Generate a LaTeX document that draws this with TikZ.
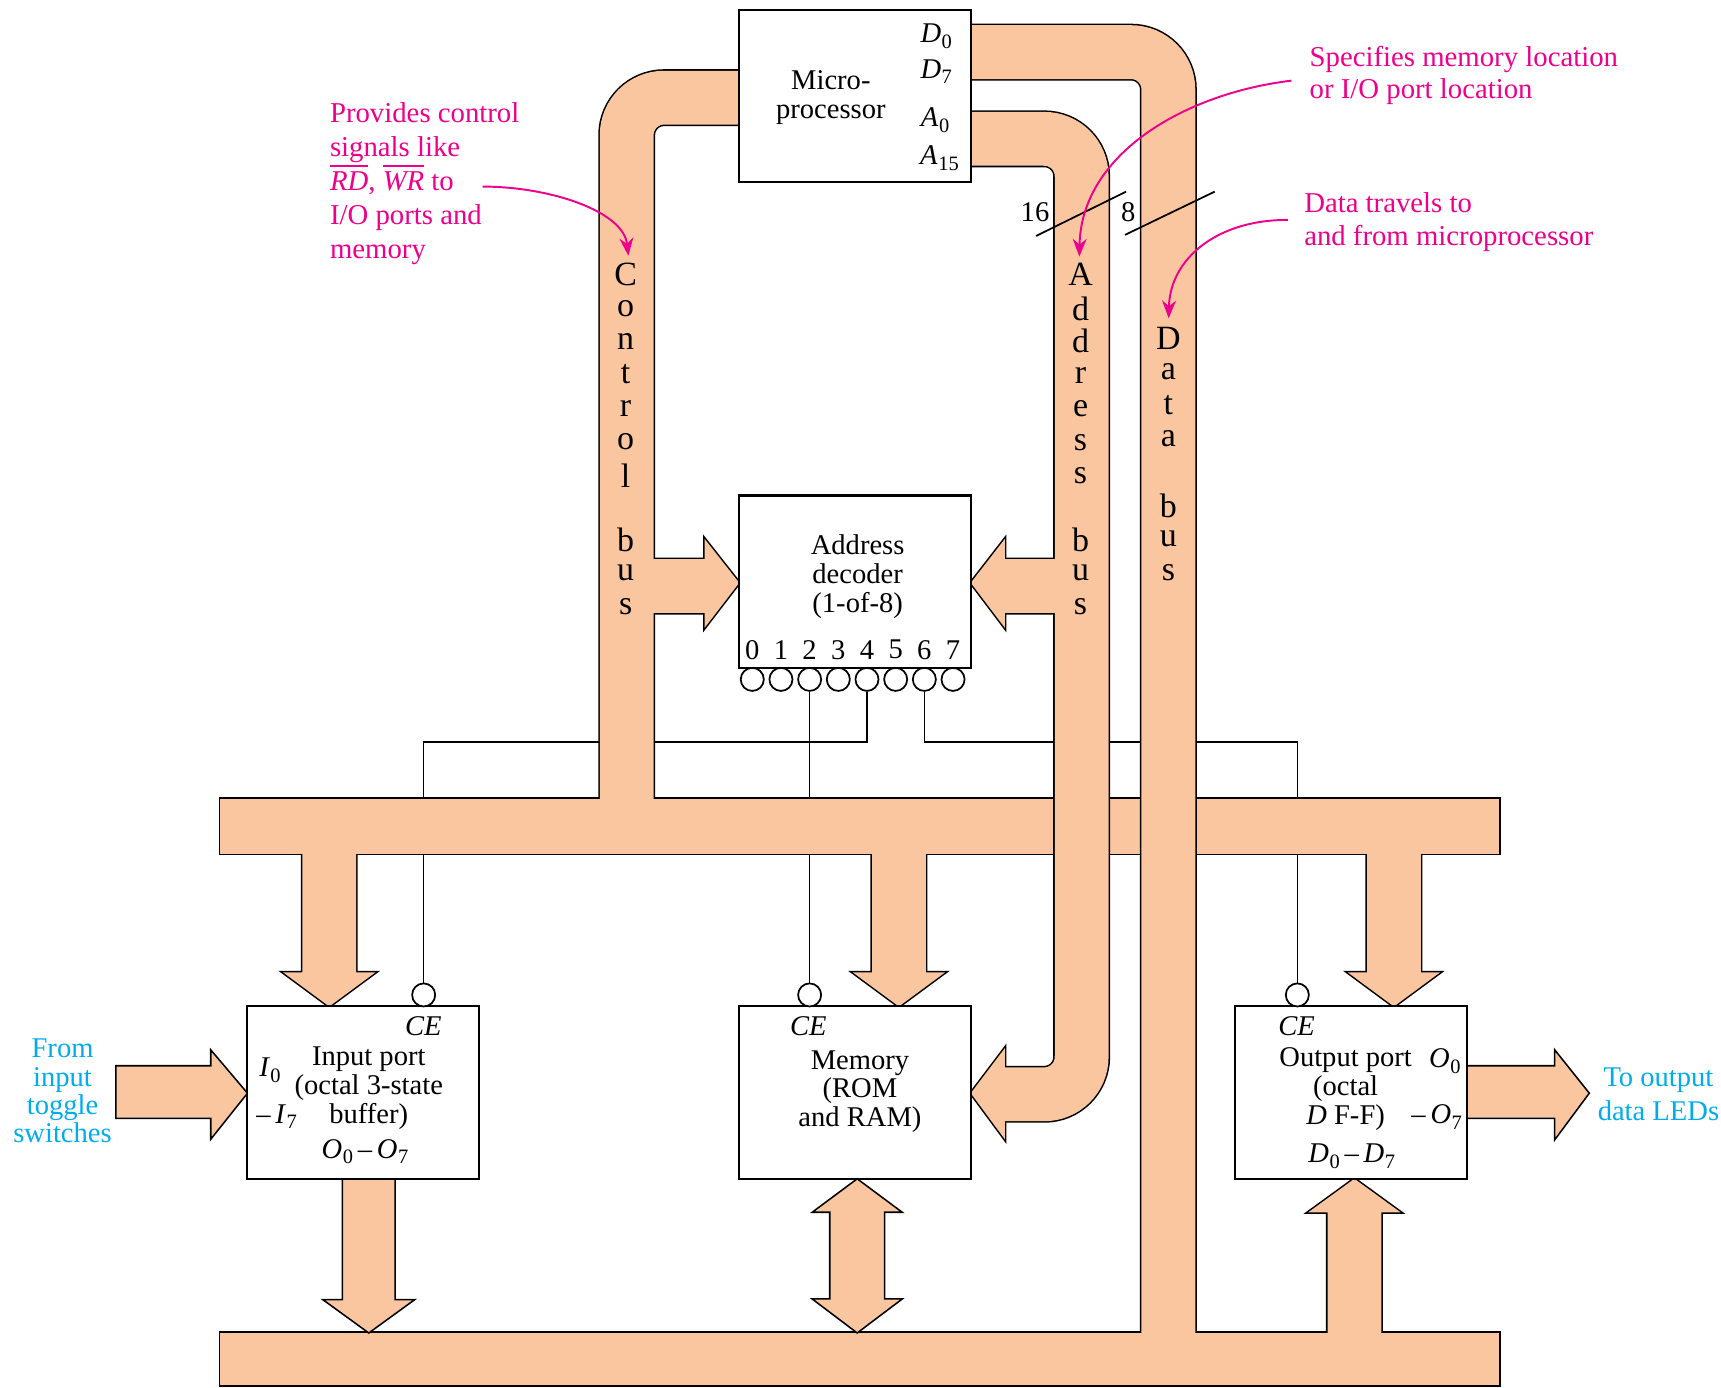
\documentclass[tikz,border=0pt]{standalone}
\usepackage{fontspec}
\setmainfont{Liberation Serif}
\usetikzlibrary{arrows.meta}
\definecolor{peach}{RGB}{250,198,160}
\definecolor{mag}{RGB}{236,0,140}
\definecolor{cyanT}{RGB}{0,172,236}
\pgfdeclarelayer{bg}
\pgfsetlayers{bg,main}
\newcommand\lsub[2]{\textit{#1}\kern0.02em\raisebox{-0.45ex}{\fontsize{5.3}{5.3}\selectfont #2}}
\begin{document}
\begin{tikzpicture}[x=0.01cm,y=-0.01cm,
  box/.style={draw,line width=0.55pt,fill=white,inner sep=0,minimum width=2.11cm,minimum height=1.57cm},
  bubble/.style={circle,draw,line width=0.45pt,fill=white,inner sep=0,minimum size=0.21cm},
  txt/.style={font=\fontsize{7.4}{7.4}\selectfont,align=center,inner sep=0},
  busl/.style={font=\fontsize{8.8}{8.8}\selectfont,inner sep=0},
  note/.style={font=\fontsize{7.45}{8.8}\selectfont,text=mag,align=left,inner sep=0,anchor=west},
  side/.style={font=\fontsize{7.4}{7.3}\selectfont,text=cyanT,align=center,inner sep=0},
  wire/.style={line width=0.4pt},
  outl/.style={draw=black,line width=0.8pt},
  band/.style={draw=peach,line width=13.94pt,rounded corners=0.34cm},
  bandedge/.style={draw=black,line width=14.74pt,rounded corners=0.34cm},
  solo/.style={fill=peach,draw=black,line width=0.4pt},
  pointer/.style={draw=mag,line width=0.5pt,-{Stealth[length=4.6pt,width=3.6pt]}},
  ]
\useasboundingbox (0,0) rectangle (1568,1264);

% ---- boxes ----
\node[box] (mp) at (779,87.5) {};
\node[box] (dec) at (779,530) {};
\node[box] (inp) at (331,995.5) {};
\node[box] (mem) at (779,995.5) {};
\node[box] (outp) at (1231,995.5) {};

% decoder output bubbles and digits
\foreach \i in {0,...,7} {
  \node[bubble] (p\i) at ({685.4+26.13*\i},619) {};
  \node[txt] (d\i) at ({685.4+26.13*\i},592) {\i};
}
% chip-enable bubbles
\node[bubble] (cein) at (386,906.5) {};
\node[bubble] (cemem) at ({685.4+26.13*2},906.5) {};
\node[bubble] (ceout) at (1182,906.5) {};
\coordinate (j4) at ({685.4+26.13*4},676);
\coordinate (j6) at ({685.4+26.13*6},676);

\begin{pgfonlayer}{bg}
% ---- wires ----
\draw[wire] (p2.south) -- (cemem.north);
\draw[wire] (p4.south) -- (j4) -| (cein.north);
\draw[wire] (p6.south) -- (j6) -| (ceout.north);

% ---- control bus ----
\path[bandedge] (690,89) -- (571,89) -- (571,753);
\path[outl] (200.5,728) rectangle (1366,778);
\path[outl] (565,509.5) -- (642,509.5) -- (642,491) -- (673.5,531) -- (642,572) -- (642,558.5) -- (565,558.5) -- cycle;
\path[outl] (275.5,770) -- (275.5,886) -- (258,886) -- (300,917) -- (342,886) -- (324.5,886) -- (324.5,770) -- cycle;
\path[outl] (794.5,770) -- (794.5,886) -- (777,886) -- (819,917) -- (861,886) -- (843.5,886) -- (843.5,770) -- cycle;
\path[outl] (1245.5,770) -- (1245.5,886) -- (1228,886) -- (1270,917) -- (1312,886) -- (1294.5,886) -- (1294.5,770) -- cycle;
\path[band] (690,89) -- (571,89) -- (571,753);
\fill[peach] (200.5,728) rectangle (1366,778);
\fill[peach] (565,509.5) -- (642,509.5) -- (642,491) -- (673.5,531) -- (642,572) -- (642,558.5) -- (565,558.5) -- cycle;
\fill[peach] (275.5,770) -- (275.5,886) -- (258,886) -- (300,917) -- (342,886) -- (324.5,886) -- (324.5,770) -- cycle;
\fill[peach] (794.5,770) -- (794.5,886) -- (777,886) -- (819,917) -- (861,886) -- (843.5,886) -- (843.5,770) -- cycle;
\fill[peach] (1245.5,770) -- (1245.5,886) -- (1228,886) -- (1270,917) -- (1312,886) -- (1294.5,886) -- (1294.5,770) -- cycle;

% ---- address bus ----
\path[bandedge] (700,126.5) -- (985.5,126.5) -- (985.5,997) -- (905,997);
\path[outl] (992,509.5) -- (915.5,509.5) -- (915.5,491) -- (884.5,531) -- (915.5,572) -- (915.5,558.5) -- (992,558.5) -- cycle;
\path[outl] (915.5,955) -- (884.5,996) -- (915.5,1038) -- cycle;
\path[band] (700,126.5) -- (985.5,126.5) -- (985.5,997) -- (905,997);
\fill[peach] (992,509.5) -- (915.5,509.5) -- (915.5,491) -- (884.5,531) -- (915.5,572) -- (915.5,558.5) -- (992,558.5) -- cycle;
\fill[peach] (915.5,955) -- (884.5,996) -- (915.5,1038) -- cycle;

% ---- data bus ----
\path[bandedge] (700,47.5) -- (1064.5,47.5) -- (1064.5,1238);
\path[outl] (200.5,1214.5) rectangle (1366,1262);
\path[outl] (1209.5,1222) -- (1209.5,1104.5) -- (1192,1104.5) -- (1234,1074) -- (1276,1104.5) -- (1258.5,1104.5) -- (1258.5,1222) -- cycle;
\path[band] (700,47.5) -- (1064.5,47.5) -- (1064.5,1238);
\fill[peach] (200.5,1214.5) rectangle (1366,1262);
\fill[peach] (1209.5,1222) -- (1209.5,1104.5) -- (1192,1104.5) -- (1234,1074) -- (1276,1104.5) -- (1258.5,1104.5) -- (1258.5,1222) -- cycle;

% ---- single arrows ----
\path[solo] (312,1074) -- (312,1184) -- (294,1184) -- (336,1214.5) -- (378,1184) -- (360,1184) -- (360,1074) -- cycle;
\path[solo] (781,1074) -- (740,1104.5) -- (756,1104.5) -- (756,1183.5) -- (740,1183.5) -- (781,1214.5) -- (822,1183.5) -- (806,1183.5) -- (806,1104.5) -- (822,1104.5) -- cycle;
\path[solo] (105.5,971) -- (192,971) -- (192,956.5) -- (225.5,996) -- (192,1038) -- (192,1019) -- (105.5,1019) -- cycle;
\path[solo] (1336.5,971) -- (1416.5,971) -- (1416.5,956.5) -- (1448,996) -- (1416.5,1038.5) -- (1416.5,1019) -- (1336.5,1019) -- cycle;
\end{pgfonlayer}

% ---- box texts ----
\node[txt] (tmp) at (757,88.8) {Micro-\\processor};
\node[txt] (td0) at (853,33.4) {\lsub{D}{0}};
\node[txt] (td7) at (853,65.3) {\lsub{D}{7}};
\node[txt] (ta0) at (852,109.5) {\lsub{A}{0}};
\node[txt] (ta15) at (856,144) {\lsub{A}{15}};
\node[txt] (tdec) at (781.4,525.4) {Address\\decoder\\(1-of-8)};

\node[txt] (tce1) at (385.7,935.4) {\textit{CE}};
\node[txt] (ti0) at (246,975) {\lsub{I}{0}};
\node[txt] (tin) at (336,991.5) {Input port\\(octal 3-state\\buffer)};
\node[txt] (ti7) at (252,1017.4) {–\,\lsub{I}{7}};
\node[txt] (tio) at (332.6,1049.3) {\lsub{O}{0}\,–\,\lsub{O}{7}};

\node[txt] (tce2) at (736.5,935.4) {\textit{CE}};
\node[txt] (tmem) at (783.5,994.6) {Memory\\(ROM\\and RAM)};

\node[txt] (tce3) at (1181.4,935.4) {\textit{CE}};
\node[txt] (tout) at (1226,992.3) {Output port\\(octal\\\textit{D} F-F)};
\node[txt] (to0) at (1316.5,967) {\lsub{O}{0}};
\node[txt] (to7) at (1309,1017.4) {–\,\lsub{O}{7}};
\node[txt] (tdd) at (1231.5,1053.8) {\lsub{D}{0}\,–\,\lsub{D}{7}};

% ---- bus letters ----
\foreach \l/\y [count=\k] in {C/250,o/281,n/311,t/341,r/372,o/402,l/433,b/492,u/522,s/553}
  \node[busl] (cb\k) at (570,\y) {\l};
\foreach \l/\y [count=\k] in {A/250,d/281,d/311,r/342,e/372,s/403,s/433,b/492,u/522,s/553}
  \node[busl] (ab\k) at (984.5,\y) {\l};
\foreach \l/\y [count=\k] in {D/308,a/339,t/369,a/400,b/461,u/491,s/522}
  \node[busl] (db\k) at (1064.5,\y) {\l};

% ---- width marks ----
\coordinate (s16a) at (944,215);
\coordinate (s16b) at (1026,174.6);
\coordinate (s8a) at (1025,214);
\coordinate (s8b) at (1106.7,174.6);
\draw[line width=0.45pt] (s16a) -- (s16b);
\draw[line width=0.45pt] (s8a) -- (s8b);
\node[txt] (l16) at (943,193) {16};
\node[txt] (l8) at (1028,193) {8};

% ---- annotations ----
\node[note] (n1) at (300,167) {Provides control\\signals like\\$\overline{\mbox{\textit{RD}}}$, $\overline{\mbox{\textit{WR}}}$ to\\I/O ports and\\memory};
\node[note,font=\fontsize{7.45}{8.2}\selectfont] (n2) at (1192.6,69) {Specifies memory location\\or I/O port location};
\node[note,font=\fontsize{7.45}{8.5}\selectfont] (n3) at (1187.6,202) {Data travels to\\and from microprocessor};
\node[side] (s1) at (57,994) {From\\input\\toggle\\switches};
\node[side,font=\fontsize{7.4}{9}\selectfont] (s2) at (1511,997) {To output\\data LEDs};

\coordinate (a1s) at (439.8,170);
\coordinate (a1e) at (572.5,233);
\coordinate (a2s) at (1176.6,73.5);
\coordinate (a2e) at (983.4,233.8);
\coordinate (a3s) at (1173.4,200.4);
\coordinate (a3e) at (1064.8,290);
\draw[pointer] (a1s) .. controls (500,170) and (568,192) .. (a1e);
\draw[pointer] (a2s) .. controls (1080,85) and (985,140) .. (a2e);
\draw[pointer] (a3s) .. controls (1110,200) and (1066,235) .. (a3e);
\end{tikzpicture}
\end{document}
